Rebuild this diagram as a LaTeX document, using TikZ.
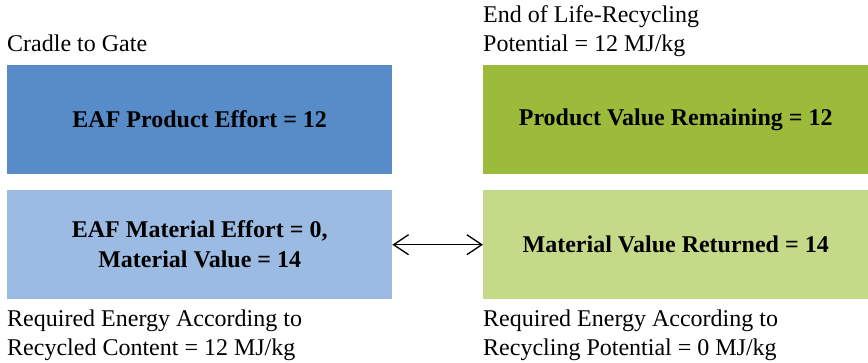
\documentclass[tikz,border=0pt]{standalone}
\usepackage{fontspec}
\setmainfont{Liberation Serif}
\usetikzlibrary{arrows.meta}
\definecolor{blueD}{HTML}{588CC8}
\definecolor{blueL}{HTML}{9CBBE2}
\definecolor{greenD}{HTML}{9CBB3B}
\definecolor{greenL}{HTML}{C5DA88}
\tikzset{
  box/.style={anchor=north west, minimum width=385pt, minimum height=109pt, inner sep=0pt, align=center, font=\fontsize{24}{30}\selectfont\bfseries},
  lbl/.style={anchor=base west, inner sep=0pt, font=\fontsize{24}{28.8}\selectfont},
  dbl/.style={{Straight Barb[length=15pt,width=20pt]}-{Straight Barb[length=15pt,width=20pt]}, line width=1.3pt}
}
\begin{document}
\begin{tikzpicture}[x=1pt,y=-1pt]
\useasboundingbox (0,0) rectangle (868,363);
\node[box, fill=blueD] (lt) at (7,65) {EAF Product Effort = 12};
\node[box, fill=blueL] (lb) at (7,190) {EAF Material Effort = 0,\\Material Value = 14};
\node[box, fill=greenD] (rt) at (483,65) {Product Value Remaining = 12};
\node[box, fill=greenL] (rb) at (483,190) {Material Value Returned = 14};
\node[lbl] (l1) at (7,52) {Cradle to Gate};
\node[lbl] (l2) at (483,23) {\begin{tabular}[t]{@{}l@{}}End of Life-Recycling\\Potential = 12 MJ/kg\end{tabular}};
\node[lbl] (l3) at (7,327) {\begin{tabular}[t]{@{}l@{}}Required Energy According to\\Recycled Content = 12 MJ/kg\end{tabular}};
\node[lbl] (l4) at (483,327) {\begin{tabular}[t]{@{}l@{}}Required Energy According to\\Recycling Potential = 0 MJ/kg\end{tabular}};
\draw[dbl] (lb.east) -- (rb.west);
\end{tikzpicture}
\end{document}
